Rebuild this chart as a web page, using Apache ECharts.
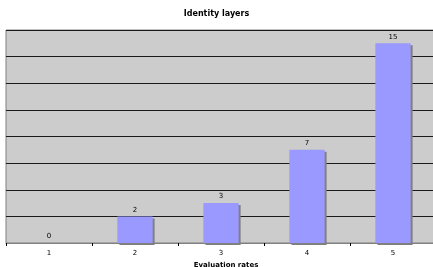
<!DOCTYPE html>
<html><head><meta charset="utf-8">
<script src="https://cdn.jsdelivr.net/npm/echarts@6/dist/echarts.min.js"></script>
<style>html,body{margin:0;padding:0;background:#fff}#c{width:433px;height:267px}</style>
</head><body><div id="c"></div>
<script>
const categories = ['1', '2', '3', '4', '5'];
const values = [0, 2, 3, 7, 15];
const titleText = 'Identity layers';
const xName = 'Evaluation rates';

const chart = echarts.init(document.getElementById('c'), null, {renderer: 'canvas'});
chart.setOption({
  animation: false,
  backgroundColor: '#ffffff',
  title: {
    text: titleText, left: 'center', top: 5,
    textStyle: {fontFamily: 'DejaVu Sans', fontSize: 8, fontWeight: 'bold', color: '#000'}
  },
  grid: {left: 6, right: -3, top: 30, bottom: 24, outerBoundsMode: 'none', containLabel: false,
    show: true, backgroundColor: '#cccccc', borderColor: '#808080', borderWidth: 1},
  xAxis: {
    type: 'category', data: categories,
    name: xName, nameLocation: 'middle', nameGap: 15,
    nameTextStyle: {fontFamily: 'DejaVu Sans', fontSize: 7, fontWeight: 'bold', color: '#000', padding: [0, 0, 0, 10]},
    axisLine: {lineStyle: {color: '#808080', width: 1}},
    axisTick: {show: true, inside: false, length: 3, lineStyle: {color: '#000'}},
    axisLabel: {fontFamily: 'DejaVu Sans', fontSize: 7, color: '#000', margin: 7}
  },
  yAxis: {
    type: 'value', min: 0, max: 16, interval: 2,
    axisLine: {show: false}, axisTick: {show: false}, axisLabel: {show: false},
    splitLine: {show: true, lineStyle: {color: '#1a1a1a', width: 1}}
  },
  series: [{
    type: 'bar', data: values, barCategoryGap: '59%',
    itemStyle: {color: '#9999ff', shadowColor: '#808080', shadowOffsetX: 2, shadowOffsetY: 2, shadowBlur: 0},
    label: {show: true, position: 'top', distance: 3, fontFamily: 'DejaVu Sans', fontSize: 7, color: '#000'}
  }]
});
</script></body></html>
